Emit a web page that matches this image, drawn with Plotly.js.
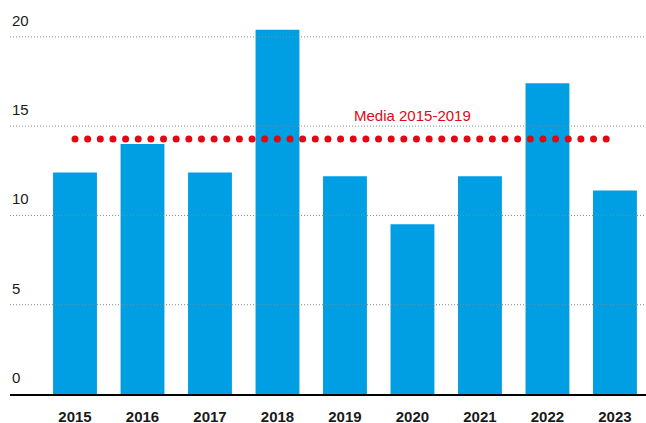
<!DOCTYPE html>
<html>
<head>
<meta charset="utf-8">
<script src="https://cdn.plot.ly/plotly-3.0.1.min.js"></script>
<style>html,body{margin:0;padding:0;background:#fff}#chart{width:646px;height:423px}</style>
</head>
<body>
<div id="chart"></div>
<script>
const years = [2015, 2016, 2017, 2018, 2019, 2020, 2021, 2022, 2023];
const values = [12.4, 14.0, 12.4, 20.4, 12.2, 9.5, 12.2, 17.4, 11.4];
const meanYears = [2015, 2016, 2017, 2018, 2019];
const meanLabel = "Media 2015-2019";
const yTicks = [0, 5, 10, 15, 20];

const meanVals = years.map((y, i) => meanYears.includes(y) ? values[i] : null).filter(v => v !== null);
const mean = meanVals.reduce((a, b) => a + b, 0) / meanVals.length;

// dotted mean line drawn as markers
const dotX = [];
const step = 0.18738;
for (let i = 0; i <= 42; i++) dotX.push(years[0] + i * step);
const dotY = dotX.map(() => mean);

const font = "Liberation Sans, Arial, Helvetica, sans-serif";

const traces = [
  {
    type: "bar",
    x: years,
    y: values,
    marker: { color: "#009fe3" },
    width: 0.65,
    hoverinfo: "skip"
  },
  {
    type: "scatter",
    mode: "markers",
    x: dotX,
    y: dotY,
    marker: { color: "#e30613", size: 7 },
    hoverinfo: "skip"
  }
];

const shapes = yTicks.filter(v => v > 0).map(v => ({
  type: "line", xref: "paper", yref: "y", x0: 0, x1: 1, y0: v, y1: v,
  line: { color: "#8a8a8a", width: 1, dash: "1px,2px" }, layer: "above"
}));

const annotations = yTicks.map(v => ({
  xref: "paper", yref: "y", x: 0, y: v, xanchor: "left", yanchor: "bottom",
  text: String(v), showarrow: false, yshift: 6,
  font: { family: font, size: 15, color: "#1a1a1a" }
}));
annotations.push({
  xref: "x", yref: "y", x: 2020, y: mean, yanchor: "bottom", xanchor: "center",
  text: meanLabel, showarrow: false, yshift: 13,
  font: { family: font, size: 15, color: "#e30613" }
});

const layout = {
  width: 646, height: 423,
  margin: { l: 10, r: 0, t: 19, b: 29 },
  paper_bgcolor: "#fff", plot_bgcolor: "#fff",
  showlegend: false,
  xaxis: {
    type: "linear",
    range: [2014.037, 2023.46],
    tickvals: years,
    ticktext: years.map(String),
    showgrid: false, zeroline: false,
    showline: true, linecolor: "#000", linewidth: 1.5,
    ticks: "",
    ticklabelstandoff: 8,
    tickfont: { family: font, size: 15, color: "#1a1a1a", weight: "bold" },
    fixedrange: true
  },
  yaxis: {
    range: [0, 21],
    showgrid: false, zeroline: false, showline: false,
    showticklabels: false, ticks: "",
    fixedrange: true
  },
  shapes: shapes,
  annotations: annotations
};

Plotly.newPlot("chart", traces, layout, { displayModeBar: false, staticPlot: true });
</script>
</body>
</html>
